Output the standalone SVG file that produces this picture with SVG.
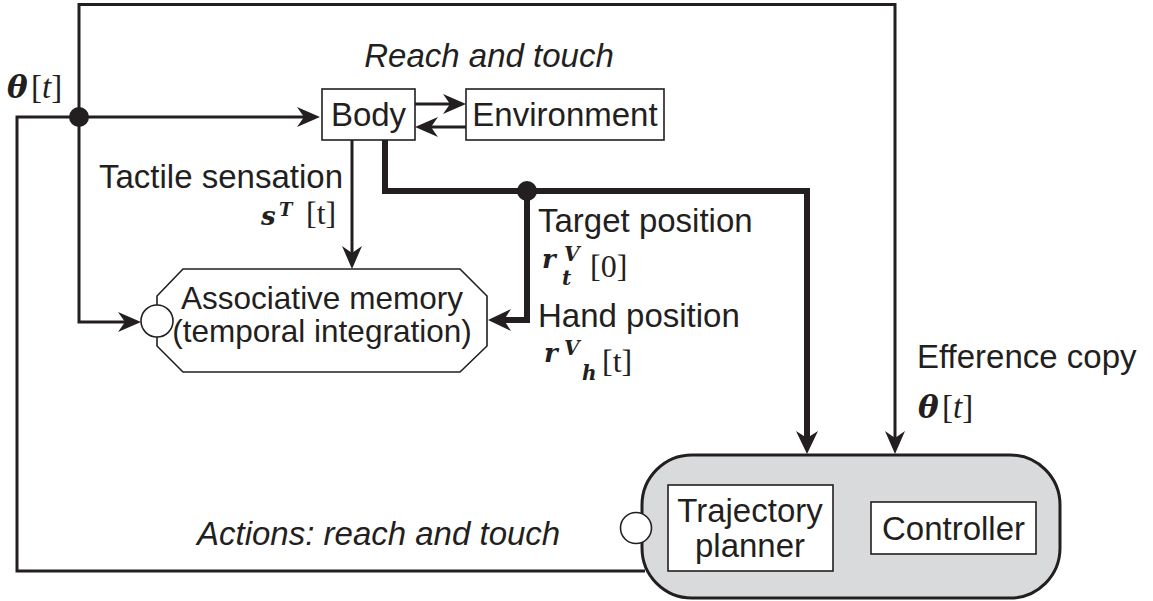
<svg xmlns="http://www.w3.org/2000/svg" width="1153" height="601" viewBox="0 0 1153 601">
<style>
.t{font-family:"Liberation Sans",Arial,sans-serif;font-size:33px;fill:#231f20}
.it{font-style:italic}
.m{font-family:"Liberation Serif","Times New Roman",serif;fill:#231f20}
.bi{font-family:"DejaVu Serif","Liberation Serif",serif;font-weight:bold;font-style:italic}
.box{fill:#fff;stroke:#231f20;stroke-width:1.6}
.thin{fill:none;stroke:#231f20;stroke-width:3}
.thick{fill:none;stroke:#231f20;stroke-width:6}
</style>
<defs>
<marker id="ah" markerUnits="userSpaceOnUse" orient="auto" overflow="visible" refX="0" refY="0" markerWidth="30" markerHeight="30">
<path d="M11,0 L-12,-10 L-5,0 L-12,10 Z" fill="#231f20"/>
</marker>
<marker id="ahk" markerUnits="userSpaceOnUse" orient="auto" overflow="visible" refX="0" refY="0" markerWidth="30" markerHeight="30">
<path d="M10,0 L-13,-11 L-6,0 L-13,11 Z" fill="#231f20"/>
</marker>
</defs>
<rect width="1153" height="601" fill="#fff"/>

<g id="connectors">
<path class="thin" d="M79,117 V4.5 H895 V443" marker-end="url(#ah)"/>
<path class="thin" d="M645,571 H17 V117 H309" marker-end="url(#ah)"/>
<path class="thin" d="M79,117 V322 H130" marker-end="url(#ah)"/>
<path class="thin" d="M415,104 H455" marker-end="url(#ah)"/>
<path class="thin" d="M466,127 H426" marker-end="url(#ah)"/>
<path class="thin" d="M352,140 V258" marker-end="url(#ah)"/>
<path class="thick" d="M385,140 V191 H807 V444" marker-end="url(#ahk)"/>
<path class="thick" d="M527,191 V320 H498" marker-end="url(#ahk)"/>
<circle cx="79" cy="117" r="10" fill="#231f20"/>
<circle cx="527" cy="191" r="10" fill="#231f20"/>
</g>

<g id="body">
<rect class="box" x="322" y="89" width="93" height="51"/>
<text class="t" x="368.5" y="126" text-anchor="middle">Body</text>
</g>
<g id="environment">
<rect class="box" x="466" y="89" width="198" height="51"/>
<text class="t" x="565" y="126" text-anchor="middle">Environment</text>
</g>
<g id="memory">
<polygon class="box" points="183,269 460,269 487,296 487,346 460,372 183,372 157,346 157,296"/>
<circle class="box" cx="157" cy="321" r="16"/>
<text class="t" text-anchor="middle" style="font-size:31.5px"><tspan x="322" y="309">Associative memory</tspan><tspan x="322" y="342">(temporal integration)</tspan></text>
</g>
<g id="planner-controller">
<rect x="642" y="455" width="418" height="143" rx="50" ry="50" fill="#d9dadc" stroke="#231f20" stroke-width="3"/>
<circle class="box" cx="636" cy="528" r="15.5"/>
<g id="trajectory-planner">
<rect class="box" x="668" y="485" width="165" height="86"/>
<text class="t" text-anchor="middle"><tspan x="750" y="522">Trajectory</tspan><tspan x="750" y="557">planner</tspan></text>
</g>
<g id="controller">
<rect class="box" x="871" y="502" width="165" height="52"/>
<text class="t" x="953.5" y="540" text-anchor="middle">Controller</text>
</g>
</g>

<g id="labels">
<text class="t it" x="489" y="67" text-anchor="middle">Reach and touch</text>
<text class="t it" x="197" y="545">Actions: reach and touch</text>
<text class="t" x="343" y="188" text-anchor="end">Tactile sensation</text>
<text class="t" x="538" y="232">Target position</text>
<text class="t" x="538" y="327">Hand position</text>
<text class="t" x="917" y="368">Efference copy</text>

<text class="m" font-size="33"><tspan class="bi" x="7" y="98" font-size="31">θ</tspan><tspan x="31" y="98">[</tspan><tspan font-style="italic">t</tspan>]</text>
<text class="m" font-size="33"><tspan class="bi" x="918" y="418" font-size="31">θ</tspan><tspan x="942" y="418">[</tspan><tspan font-style="italic">t</tspan>]</text>

<text class="m" font-size="32"><tspan class="bi" x="261" y="225" font-size="26">s</tspan><tspan class="bi" x="279" y="216" font-size="18">T</tspan><tspan x="306" y="224">[t]</tspan></text>

<text class="m" font-size="32"><tspan class="bi" x="542" y="268" font-size="26">r</tspan><tspan class="bi" x="564" y="261" font-size="20">V</tspan><tspan class="bi" x="562" y="285" font-size="20">t</tspan><tspan x="590" y="277">[0]</tspan></text>

<text class="m" font-size="32"><tspan class="bi" x="544" y="362" font-size="26">r</tspan><tspan class="bi" x="564" y="355" font-size="20">V</tspan><tspan class="bi" x="582" y="380" font-size="20">h</tspan><tspan x="602" y="372">[t]</tspan></text>
</g>
</svg>
